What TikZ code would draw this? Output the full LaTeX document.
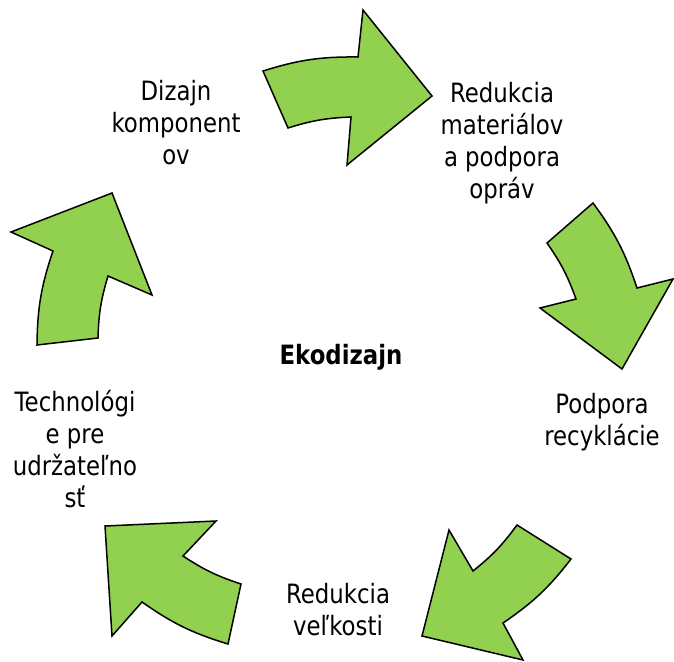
\documentclass[tikz,border=0pt]{standalone}
\usepackage{fontspec}
\setmainfont{DejaVu Sans}[FakeStretch=0.858]
\definecolor{arrowgreen}{RGB}{146,208,80}
\begin{document}
\begin{tikzpicture}[x=1pt,y=-1pt,
  cyclearrow/.style={fill=arrowgreen,draw=black,line width=1.5pt,line join=miter},
  lbl/.style={inner sep=0pt,align=center,font=\fontsize{26.6}{32}\selectfont},
  outerarc/.style={bend left=9},
  innerarc/.style={bend right=7.5}]
\useasboundingbox (0,0) rectangle (674,661);
% arrows
\draw[cyclearrow] (263,71) to[outerarc] (358,57) -- (363,10) -- (432,96) -- (347,165) -- (351,117) to[innerarc] (288,128) -- cycle;
\draw[cyclearrow] (593,203) to[outerarc] (637,288) -- (673,279) -- (622,369) -- (540,308) -- (576,299) to[innerarc] (547,243) -- cycle;
\draw[cyclearrow] (571,559) to[outerarc] (503,623) -- (523,660) -- (422,636) -- (449,530) -- (473,571) to[innerarc] (517,525) -- cycle;
\draw[cyclearrow] (228,644) to[outerarc] (142,602) -- (112,636) -- (105,526) -- (216,521) -- (183,556) to[innerarc] (241,584) -- cycle;
\draw[cyclearrow] (37,345) to[outerarc] (53,251) -- (11,232) -- (112,193) -- (152,295) -- (108,276) to[innerarc] (98,338) -- cycle;
% labels
\node[lbl] (dizajn) at (176,130) {\rule{0pt}{16pt}Dizajn\\komponent\\ov\rule[-16pt]{0pt}{16pt}};
\node[lbl] (redmat) at (502,148) {\rule{0pt}{16pt}Redukcia\\materiálov\\a podpora\\opráv\rule[-16pt]{0pt}{16pt}};
\node[lbl] (podpora) at (602,427) {\rule{0pt}{16pt}Podpora\\recyklácie\rule[-16pt]{0pt}{16pt}};
\node[lbl] (redvel) at (338,617.5) {\rule{0pt}{16pt}Redukcia\\veľkosti\rule[-16pt]{0pt}{16pt}};
\node[lbl] (tech) at (75,457) {\rule{0pt}{16pt}Technológi\\e pre\\udržateľno\\sť\rule[-16pt]{0pt}{16pt}};
\node[lbl,font=\fontsize{26.6}{32}\selectfont\bfseries,anchor=base] (eko) at (341,364) {Ekodizajn};
\end{tikzpicture}
\end{document}
